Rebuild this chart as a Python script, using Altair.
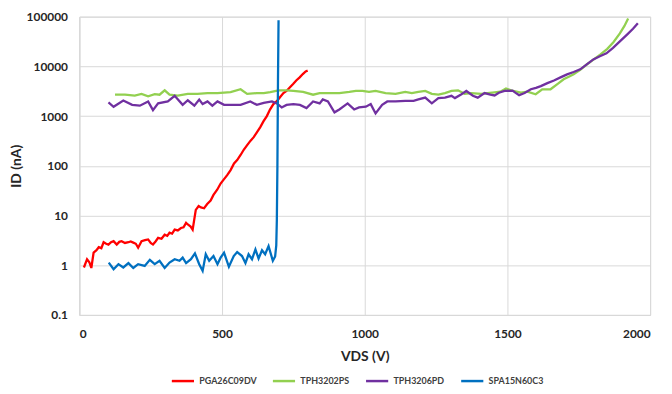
import altair as alt
import pandas as pd

series_names = ["PGA26C09DV", "TPH3202PS", "TPH3206PD", "SPA15N60C3"]
series_colors = ["#FF0000", "#92D050", "#7030A0", "#0070C0"]

red_x = [16, 27, 35, 42, 50, 60, 68, 77, 85, 94, 102, 111, 120, 131, 140, 148, 160, 172, 180, 189,
         198, 206, 218, 230, 241, 250, 258, 267, 276, 288, 299, 308, 316, 325, 334, 345, 356, 365,
         374, 380, 390, 397, 408, 418, 426, 437, 448, 460, 470, 483, 495, 505, 518, 530, 542, 553,
         565, 576, 588, 600, 611, 622, 634, 645, 657, 668, 680, 692, 703, 715, 726, 738, 749, 760,
         772, 783, 793, 800]
red_y = [0.9, 1.32, 1.15, 0.88, 1.8, 2.0, 2.3, 2.2, 2.9, 2.7, 2.6, 2.9, 3.05, 2.6, 2.95, 3.05, 2.8,
         2.9, 3.0, 2.85, 2.7, 2.25, 3.05, 3.2, 3.3, 2.8, 2.6, 3.0, 3.55, 3.4, 4.1, 3.9, 4.5, 4.3,
         5.2, 5.0, 5.6, 5.8, 7.1, 6.6, 6.0, 5.2, 13, 15.5, 14.5, 14, 17, 20, 26, 33, 44, 52, 65, 82,
         111, 130, 165, 210, 260, 320, 377, 470, 600, 780, 1000, 1350, 1740, 2000, 2400, 2900, 3200,
         3800, 4400, 5200, 6000, 7000, 7900, 8200]

green_x = [125, 160, 194, 218, 241, 264, 281, 299, 316, 345, 380, 414, 449, 484, 530, 565, 588, 622,
           646, 669, 698, 726, 750, 784, 819, 842, 877, 911, 946, 969, 992, 1015, 1038, 1073, 1108,
           1142, 1165, 1188, 1212, 1235, 1258, 1281, 1304, 1327, 1350, 1373, 1408, 1430, 1455, 1475,
           1495, 1520, 1547, 1570, 1599, 1622, 1651, 1675, 1697, 1715, 1732, 1755, 1778, 1800, 1825,
           1850, 1872, 1894, 1910, 1923]
green_y = [2690, 2690, 2580, 2800, 2500, 2750, 2690, 3300, 2690, 2580, 2800, 2800, 2900, 2900, 3030,
           3460, 2800, 2900, 2900, 3030, 3300, 3300, 3200, 3060, 2690, 2900, 2900, 2900, 3060, 3200,
           3200, 3060, 3200, 2900, 2800, 3060, 2900, 3060, 3200, 2800, 2690, 2900, 3200, 3300, 2800,
           2900, 2800, 2900, 3000, 3100, 3600, 3200, 2950, 3100, 2750, 3460, 3460, 4400, 5500, 6200,
           6900, 8500, 10900, 13500, 17200, 22500, 31000, 46000, 65000, 92000]

purple_x = [102, 120, 154, 185, 212, 241, 258, 276, 310, 334, 362, 380, 403, 420, 432, 449, 466,
            484, 507, 530, 565, 599, 622, 646, 675, 692, 709, 726, 750, 773, 796, 819, 842, 853,
            871, 894, 911, 940, 963, 980, 1004, 1021, 1038, 1061, 1079, 1108, 1142, 1171, 1188,
            1212, 1235, 1258, 1281, 1304, 1316, 1339, 1356, 1379, 1396, 1420, 1440, 1455, 1470,
            1490, 1518, 1530, 1541, 1560, 1582, 1600, 1617, 1640, 1663, 1686, 1709, 1732, 1755,
            1778, 1801, 1824, 1847, 1870, 1894, 1920, 1940, 1957]
purple_y = [1880, 1540, 2050, 1680, 1620, 1970, 1320, 1800, 1970, 2560, 1680, 2080, 1620, 2150,
            1740, 1970, 1620, 1970, 1680, 1680, 1680, 1970, 1680, 1850, 1970, 1800, 1490, 1680,
            1740, 1680, 1450, 1970, 1800, 2160, 1970, 1190, 1360, 1800, 1360, 1490, 1540, 1740,
            1130, 1680, 1970, 1970, 2030, 2030, 2160, 2350, 1800, 2300, 2350, 2560, 2300, 2750,
            3200, 2560, 2350, 2900, 2700, 2600, 2950, 3200, 3250, 2900, 2630, 2900, 3460, 3700,
            4000, 4600, 5200, 6000, 6900, 7700, 8700, 11000, 13800, 16000, 18300, 23500, 31800,
            44000, 57000, 74000]

blue_x = [103, 120, 137, 154, 172, 189, 206, 229, 247, 264, 281, 299, 316, 334, 351, 362, 374, 391,
          405, 420, 432, 443, 455, 470, 484, 495, 507, 524, 541, 553, 570, 582, 593, 605, 617, 628,
          640, 651, 663, 678, 686, 690, 692, 694, 696, 698]
blue_y = [1.13, 0.83, 1.05, 0.9, 1.1, 0.88, 1.05, 0.97, 1.28, 1.05, 1.23, 0.88, 1.13, 1.32, 1.23,
          1.42, 1.1, 1.32, 1.73, 1.05, 0.77, 1.66, 1.23, 1.53, 1.05, 1.42, 1.79, 0.93, 1.53, 1.84,
          1.53, 1.1, 1.66, 1.32, 2.08, 1.36, 2.0, 1.66, 2.42, 1.23, 1.5, 2.5, 8, 100, 5000, 85000]

y_ticks = [0.1, 1, 10, 100, 1000, 10000, 100000]
x_ticks = [0, 500, 1000, 1500, 2000]

frames = []
for name, xs, ys in zip(series_names,
                        [red_x, green_x, purple_x, blue_x],
                        [red_y, green_y, purple_y, blue_y]):
    frames.append(pd.DataFrame({"VDS": xs, "ID": ys, "series": name, "idx": range(len(xs))}))
df = pd.concat(frames, ignore_index=True)

FONT = "Lato"

chart = alt.Chart(df).mark_line(strokeWidth=2.3, interpolate="linear").encode(
    x=alt.X("VDS:Q", scale=alt.Scale(domain=[0, 2000], nice=False),
            axis=alt.Axis(values=x_ticks, title="VDS (V)", grid=True, ticks=False, format="d",
                          labelPadding=14, titlePadding=10)),
    y=alt.Y("ID:Q", scale=alt.Scale(type="log", domain=[0.1, 100000], nice=False),
            axis=alt.Axis(values=y_ticks, title="ID (nA)", grid=True, ticks=False,
                          labelPadding=12, titlePadding=3,
                          labelExpr="datum.value < 1 ? '0.1' : format(datum.value, 'd')")),
    color=alt.Color("series:N",
                    scale=alt.Scale(domain=series_names, range=series_colors),
                    legend=alt.Legend(title=None, orient="none", direction="horizontal",
                                      legendX=92, legendY=355, columns=4,
                                      symbolType="stroke", symbolStrokeWidth=2.5,
                                      symbolSize=500, columnPadding=11,
                                      labelFontSize=9, labelFontWeight="bold",
                                      labelColor="#404040", labelFont=FONT)),
    detail="series:N",
    order="idx:Q",
).properties(
    width=576, height=301,
    autosize=alt.AutoSizeParams(type="none"),
    padding={"left": 72, "top": 7, "right": 14, "bottom": 70},
).configure_view(
    stroke="#D9D9D9", strokeWidth=1
).configure_axis(
    gridColor="#D9D9D9", gridWidth=1, domainColor="#D9D9D9", domainWidth=1,
    labelFont=FONT, labelFontSize=12, labelFontWeight="bold", labelColor="#262626",
    titleFont=FONT, titleFontSize=14, titleFontWeight="bold", titleColor="#262626",
)

chart.save("out.html", embed_options={"renderer": "svg", "actions": False})
